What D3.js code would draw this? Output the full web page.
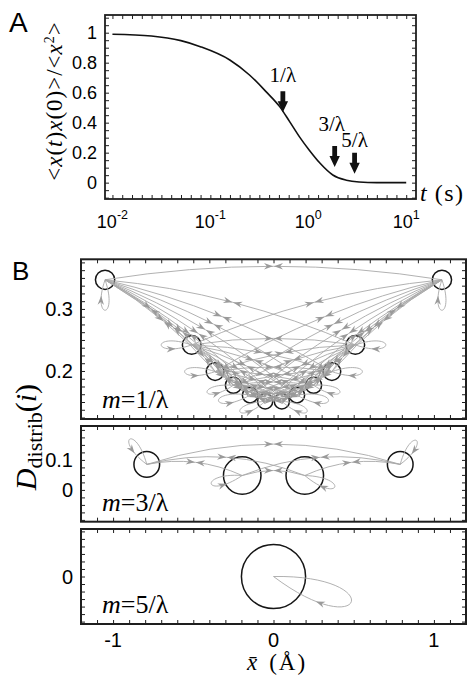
<!DOCTYPE html>
<html>
<head>
<meta charset="utf-8">
<script src="https://cdnjs.cloudflare.com/ajax/libs/d3/7.8.5/d3.min.js"></script>
<style>
body { margin: 0; background: #fff; }
</style>
</head>
<body>
<svg id="fig" width="469" height="677"></svg>
<script>
// ---- panel A data: normalised autocorrelation vs time
var tVals    = [0.01, 0.025, 0.05, 0.079, 0.158, 0.251, 0.37, 0.51, 0.645, 0.81, 1.02, 1.32, 1.78, 2.45, 3.3, 5.0, 10];
var corrVals = [0.99, 0.978, 0.947, 0.907, 0.818, 0.718, 0.607, 0.507, 0.407, 0.307, 0.218, 0.129, 0.051, 0.016, 0.004, 0.0, 0.0];
var markT      = [0.55, 1.86, 2.97];
var markTip    = [0.47, 0.105, 0.06];
var markLabels = ["1/λ", "3/λ", "5/λ"];
var markGap    = [9, 15, 6];
var aYTicks  = [0, 0.2, 0.4, 0.6, 0.8, 1];
var aYLabels = ["0", "0.2", "0.4", "0.6", "0.8", "1"];
var aXExp    = [-2, -1, 0, 1];

// ---- panel B data: graphs of states (x-bar, D_distrib), circle radius, self loops
var nodeX1 = [-1.05, -0.51, -0.364, -0.25, -0.146, -0.052, 0.052, 0.146, 0.25, 0.364, 0.51, 1.05];
var nodeD1 = [0.347, 0.242, 0.199, 0.177, 0.161, 0.151, 0.151, 0.161, 0.177, 0.199, 0.242, 0.347];
var nodeR1 = [0.06, 0.058, 0.055, 0.05, 0.048, 0.047, 0.047, 0.048, 0.05, 0.055, 0.058, 0.06];
var loopAng1 = [90, 180, 180, 165, 170, 158, 22, 10, 15, 0, 0, 90];
var loopLen1 = [0.19, 0.19, 0.19, 0.17, 0.2, 0.17, 0.17, 0.2, 0.17, 0.19, 0.19, 0.19];
var loopDir1 = [-1, 1, 1, 1, 1, 1, -1, -1, -1, -1, -1, -1];

var nodeX2 = [-0.79, -0.195, 0.195, 0.79];
var nodeD2 = [0.085, 0.048, 0.048, 0.085];
var nodeR2 = [0.08, 0.117, 0.117, 0.08];
var loopAng2 = [-124, 165, 21, -56];
var loopLen2 = [0.19, 0.2, 0.2, 0.18];
var loopDir2 = [1, 1, -1, -1];
var edges2 = [[0, 1], [0, 2], [0, 3], [1, 2], [1, 3], [2, 3]];

var nodeX3 = [0];
var nodeD3 = [0];
var nodeR3 = [0.2];
var loopAng3 = [18];
var loopLen3 = [0.51];
var loopDir3 = [-1];

var mLabels = ["=1/λ", "=3/λ", "=5/λ"];

var sans = "'Liberation Sans', Arial, sans-serif";
var serif = "'Liberation Serif', 'Times New Roman', serif";
var ink = "#1e1e1e";

var svg = d3.select("#fig");

function frameTicks(x, y, xt, yt, len, sw) {
  var x0 = x.range()[0], x1 = x.range()[1], y0 = y.range()[0], y1 = y.range()[1];
  var g = svg.append("g");
  function clean(sel) {
    sel.select(".domain").remove();
    sel.selectAll("line").attr("stroke", ink);
  }
  g.append("g").attr("transform", "translate(0," + y0 + ")")
    .call(d3.axisTop(x).tickValues(xt).tickSize(len).tickFormat("")).call(clean);
  g.append("g").attr("transform", "translate(0," + y1 + ")")
    .call(d3.axisBottom(x).tickValues(xt).tickSize(len).tickFormat("")).call(clean);
  g.append("g").attr("transform", "translate(" + x0 + ",0)")
    .call(d3.axisRight(y).tickValues(yt).tickSize(len).tickFormat("")).call(clean);
  g.append("g").attr("transform", "translate(" + x1 + ",0)")
    .call(d3.axisLeft(y).tickValues(yt).tickSize(len).tickFormat("")).call(clean);
  g.append("rect")
    .attr("x", x0).attr("y", y1)
    .attr("width", x1 - x0).attr("height", y0 - y1)
    .attr("fill", "none").attr("stroke", ink).attr("stroke-width", sw);
}

// ================= Panel A
var ax = d3.scaleLog().domain([Math.pow(10, -2.076), Math.pow(10, 1.1)]).range([105, 416]);
var ay = d3.scaleLinear().domain([-0.109, 1.118]).range([199, 15]);

frameTicks(ax, ay,
  d3.range(-20, 11).map(function(k) { return Math.pow(10, k / 10); }),
  d3.range(-2, 23).map(function(k) { return k * 0.05; }), 4, 1.8);

var line = d3.line()
  .x(function(d) { return ax(d[0]); })
  .y(function(d) { return ay(d[1]); })
  .curve(d3.curveMonotoneX);

svg.append("path")
  .datum(d3.zip(tVals, corrVals))
  .attr("d", line)
  .attr("fill", "none").attr("stroke", "#111").attr("stroke-width", 1.6);

// block arrows with labels
markT.forEach(function(t, i) {
  var px = ax(t), tip = ay(markTip[i]);
  var pts = [[px - 2.4, tip - 21], [px + 2.4, tip - 21], [px + 2.4, tip - 11], [px + 5.2, tip - 11],
             [px, tip], [px - 5.2, tip - 11], [px - 2.4, tip - 11]];
  svg.append("path").attr("d", "M" + pts.join("L") + "Z").attr("fill", "#111");
  svg.append("text")
    .attr("x", px - (i === 1 ? 3 : 0)).attr("y", tip - 21 - markGap[i])
    .attr("text-anchor", "middle")
    .attr("font-family", serif).attr("font-size", 21)
    .text(markLabels[i]);
});

// tick labels
aYTicks.forEach(function(v, i) {
  svg.append("text")
    .attr("x", 97).attr("y", ay(v)).attr("dy", "0.36em")
    .attr("text-anchor", "end")
    .attr("font-family", sans).attr("font-size", 18)
    .text(aYLabels[i]);
});
aXExp.forEach(function(e) {
  var tx = svg.append("text")
    .attr("x", ax(Math.pow(10, e))).attr("y", 228)
    .attr("text-anchor", "middle")
    .attr("font-family", sans).attr("font-size", 18);
  tx.append("tspan").text("10");
  tx.append("tspan").attr("dy", -9).attr("font-size", 12.5).text(String(e).replace("−", "-"));
});

// axis labels A
var yl = svg.append("text")
  .attr("transform", "translate(62,101) rotate(-90)")
  .attr("text-anchor", "middle")
  .attr("font-family", serif).attr("font-size", 23)
  .attr("letter-spacing", 1);
yl.append("tspan").text("<");
yl.append("tspan").attr("font-style", "italic").text("x");
yl.append("tspan").text("(");
yl.append("tspan").attr("font-style", "italic").text("t");
yl.append("tspan").text(")");
yl.append("tspan").attr("font-style", "italic").text("x");
yl.append("tspan").text("(0)>/<");
yl.append("tspan").attr("font-style", "italic").text("x");
yl.append("tspan").attr("dy", -8).attr("font-size", 14).text("2");
yl.append("tspan").attr("dy", 8).text(">");

var xl = svg.append("text")
  .attr("x", 420).attr("y", 201)
  .attr("font-family", serif).attr("font-size", 24);
xl.append("tspan").attr("font-style", "italic").text("t");
xl.append("tspan").attr("dx", 8).attr("letter-spacing", 1.5).text("(s)");

svg.append("text").attr("x", 9).attr("y", 32)
  .attr("font-family", sans).attr("font-size", 28).text("A");

// ================= Panel B
var bx = d3.scaleLinear().domain([-1.2, 1.2]).range([81, 466]);
var by1 = d3.scaleLinear().domain([0.1226, 0.38]).range([419, 259.3]);
var by2 = d3.scaleLinear().domain([-0.106, 0.213]).range([521.7, 426]);
var by3 = d3.scaleLinear().domain([-0.158, 0.158]).range([624, 529]);
var unitPx = bx(1) - bx(0);
var bxTicks = d3.range(-11, 12).map(function(k) { return k / 10; });

var edges1 = [];
for (var i = 0; i < nodeX1.length; i++)
  for (var j = i + 1; j < nodeX1.length; j++) edges1.push([i, j]);

var panels = [
  {y: by1, xs: nodeX1, ds: nodeD1, rs: nodeR1, la: loopAng1, ll: loopLen1, ld: loopDir1, edges: edges1, bend: 0.04,
   yt: d3.range(10, 31).map(function(k) { return k * 0.0125; }), yl: [0.2, 0.3], ylab: ["0.2", "0.3"]},
  {y: by2, xs: nodeX2, ds: nodeD2, rs: nodeR2, la: loopAng2, ll: loopLen2, ld: loopDir2, edges: edges2, bend: 0.08,
   yt: d3.range(-4, 9).map(function(k) { return k * 0.025; }), yl: [0, 0.1], ylab: ["0", "0.1"]},
  {y: by3, xs: nodeX3, ds: nodeD3, rs: nodeR3, la: loopAng3, ll: loopLen3, ld: loopDir3, edges: [], bend: 0,
   yt: d3.range(-6, 7).map(function(k) { return k * 0.025; }), yl: [0], ylab: ["0"]}
];

var edgeCol = "#a8a8a8", headCol = "#9a9a9a";

function arrowHead(g, tip, ux, uy) {
  var L = 9, W = 6.4;
  var nx = -uy, ny = ux;
  var bx0 = tip[0] - ux * L, by0 = tip[1] - uy * L;
  var pts = [tip,
    [bx0 + nx * W / 2, by0 + ny * W / 2],
    [tip[0] - ux * L * 0.68, tip[1] - uy * L * 0.68],
    [bx0 - nx * W / 2, by0 - ny * W / 2]];
  g.append("path").attr("d", "M" + pts.join("L") + "Z").attr("fill", headCol);
}

panels.forEach(function(P, pi) {
  frameTicks(bx, P.y, bxTicks, P.yt, 4, 2);
  var g = svg.append("g");
  var pos = P.xs.map(function(x, k) { return [bx(x), P.y(P.ds[k])]; });

  // circles
  pos.forEach(function(p, k) {
    g.append("circle").attr("cx", p[0]).attr("cy", p[1]).attr("r", P.rs[k] * unitPx)
      .attr("fill", "none").attr("stroke", "#161616").attr("stroke-width", 1.5);
  });

  // edges (both directions share a curve, arrows meet at the middle)
  var heads = [];
  P.edges.forEach(function(e) {
    var p0 = pos[e[0]], p1 = pos[e[1]];
    var dx = p1[0] - p0[0], dy = p1[1] - p0[1];
    var len = Math.hypot(dx, dy);
    var ux = dx / len, uy = dy / len;
    var nx = uy, ny = -ux;
    var c = [(p0[0] + p1[0]) / 2 + nx * 2 * P.bend * len, (p0[1] + p1[1]) / 2 + ny * 2 * P.bend * len];
    g.append("path")
      .attr("d", "M" + p0 + "Q" + c + " " + p1)
      .attr("fill", "none").attr("stroke", edgeCol).attr("stroke-width", 0.9);
    var m = [0.25 * p0[0] + 0.5 * c[0] + 0.25 * p1[0], 0.25 * p0[1] + 0.5 * c[1] + 0.25 * p1[1]];
    heads.push([[m[0] - ux * 0.5, m[1] - uy * 0.5], ux, uy]);
    heads.push([[m[0] + ux * 0.5, m[1] + uy * 0.5], -ux, -uy]);
  });

  // self loops
  var th = 19 * Math.PI / 180;
  pos.forEach(function(p, k) {
    var a = P.la[k] * Math.PI / 180;
    var L = P.ll[k] * unitPx;
    var r = L / (0.75 * Math.cos(th));
    var a1 = a + P.ld[k] * th, a2 = a - P.ld[k] * th;
    var c1 = [p[0] + r * Math.cos(a1), p[1] + r * Math.sin(a1)];
    var c2 = [p[0] + r * Math.cos(a2), p[1] + r * Math.sin(a2)];
    var path = g.append("path")
      .attr("d", "M" + p + "C" + c1 + " " + c2 + " " + p)
      .attr("fill", "none").attr("stroke", edgeCol).attr("stroke-width", 0.9);
    var node = path.node();
    var T = node.getTotalLength();
    var q0 = node.getPointAtLength(0.7 * T), q1 = node.getPointAtLength(0.7 * T + 1);
    var ddx = q1.x - q0.x, ddy = q1.y - q0.y, dl = Math.hypot(ddx, ddy);
    heads.push([[q0.x + ddx / dl * 3, q0.y + ddy / dl * 3], ddx / dl, ddy / dl]);
  });

  heads.forEach(function(h) { arrowHead(g, h[0], h[1], h[2]); });

  // y tick labels
  P.yl.forEach(function(v, k) {
    svg.append("text")
      .attr("x", 73).attr("y", P.y(v)).attr("dy", "0.36em")
      .attr("text-anchor", "end")
      .attr("font-family", sans).attr("font-size", 20)
      .text(P.ylab[k]);
  });

  // m label
  var ml = svg.append("text")
    .attr("x", 102).attr("y", P.y.range()[0] - 11)
    .attr("font-family", serif).attr("font-size", 26);
  ml.append("tspan").attr("font-style", "italic").text("m");
  ml.append("tspan").text(mLabels[pi]);
});

// x tick labels B
[-1, 0, 1].forEach(function(v) {
  svg.append("text")
    .attr("x", bx(v)).attr("y", 647)
    .attr("text-anchor", "middle")
    .attr("font-family", sans).attr("font-size", 20)
    .text(v < 0 ? "-1" : String(v));
});

// x label B
var bxl = svg.append("text")
  .attr("x", 277).attr("y", 670)
  .attr("text-anchor", "middle")
  .attr("font-family", serif).attr("font-size", 23);
bxl.append("tspan").attr("font-style", "italic").text("x\u0304");
bxl.append("tspan").attr("dx", 12).attr("letter-spacing", 2).text("(Å)");

// y label B
var byl = svg.append("text")
  .attr("transform", "translate(36,437) rotate(-90)")
  .attr("text-anchor", "middle")
  .attr("font-family", serif).attr("font-size", 30);
byl.append("tspan").attr("font-style", "italic").text("D");
byl.append("tspan").attr("dy", 6).attr("font-size", 22).text("distrib");
byl.append("tspan").attr("dy", -6).text("(");
byl.append("tspan").attr("font-style", "italic").text("i");
byl.append("tspan").text(")");

svg.append("text").attr("x", 12).attr("y", 280)
  .attr("font-family", sans).attr("font-size", 26).text("B");
</script>
</body>
</html>
